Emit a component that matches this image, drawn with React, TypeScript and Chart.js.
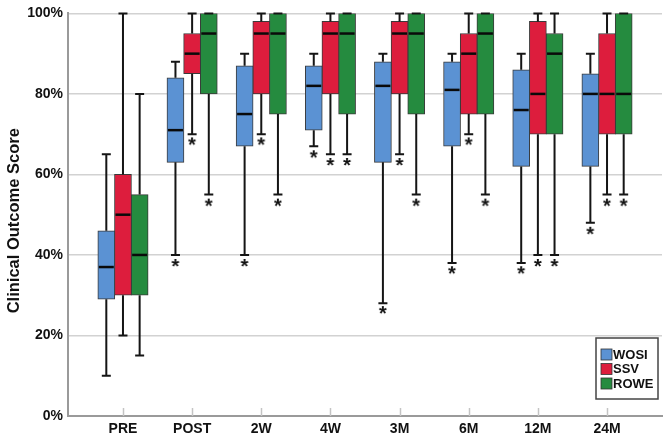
import React, { useEffect, useRef } from 'react';
import { Chart, registerables } from 'chart.js';
Chart.register(...registerables);

// ---------------- data ----------------
const categories = ['PRE', 'POST', '2W', '4W', '3M', '6M', '12M', '24M'];
const seriesNames = ['WOSI', 'SSV', 'ROWE'];
const seriesColors = ['#5b92d3', '#dd1d3d', '#258b3f'];
const yTitle = 'Clinical Outcome Score';

const wosiWhiskerHigh = [65, 88, 90, 90, 90, 90, 90, 90];
const wosiQ3 = [46, 84, 87, 87, 88, 88, 86, 85];
const wosiMedian = [37, 71, 75, 82, 82, 81, 76, 80];
const wosiQ1 = [29, 63, 67, 71, 63, 67, 62, 62];
const wosiWhiskerLow = [10, 40, 40, 67, 28, 38, 38, 48];
const wosiOutlier = [null, 38.5, 38.5, 65.5, 26.8, 36.7, 36.7, 46.5];

const ssvWhiskerHigh = [100, 100, 100, 100, 100, 100, 100, 100];
const ssvQ3 = [60, 95, 98, 98, 98, 95, 98, 95];
const ssvMedian = [50, 90, 95, 95, 95, 90, 80, 80];
const ssvQ1 = [30, 85, 80, 80, 80, 75, 70, 70];
const ssvWhiskerLow = [20, 70, 70, 65, 65, 70, 40, 55];
const ssvOutlier = [null, 68.7, 68.7, 63.6, 63.6, 68.7, 38.5, 53.5];

const roweWhiskerHigh = [80, 100, 100, 100, 100, 100, 100, 100];
const roweQ3 = [55, 100, 100, 100, 100, 100, 95, 100];
const roweMedian = [40, 95, 95, 95, 95, 95, 90, 80];
const roweQ1 = [30, 80, 75, 75, 75, 75, 70, 70];
const roweWhiskerLow = [15, 55, 55, 65, 55, 55, 40, 55];
const roweOutlier = [null, 53.5, 53.5, 63.6, 53.5, 53.5, 38.5, 53.5];

const yTicks = [0, 20, 40, 60, 80, 100];

const series = [
  { hi: wosiWhiskerHigh, q3: wosiQ3, med: wosiMedian, q1: wosiQ1, lo: wosiWhiskerLow, out: wosiOutlier },
  { hi: ssvWhiskerHigh, q3: ssvQ3, med: ssvMedian, q1: ssvQ1, lo: ssvWhiskerLow, out: ssvOutlier },
  { hi: roweWhiskerHigh, q3: roweQ3, med: roweMedian, q1: roweQ1, lo: roweWhiskerLow, out: roweOutlier },
];

// ---------------- layout constants ----------------
const FONT = '"Liberation Sans", Arial, Helvetica, sans-serif';
const GROUP_STEP = 0.241; // offset between boxes within a category (in category units)
const X_PAD = 0.795; // padding of x range beyond first/last category

function makeStarCanvas() {
  const c = document.createElement('canvas');
  c.width = 18;
  c.height = 18;
  const g = c.getContext('2d')!;
  g.fillStyle = '#111';
  g.font = `bold 20px ${FONT}`;
  g.textAlign = 'center';
  g.textBaseline = 'alphabetic';
  g.fillText('*', 9, 9 + 0.59 * 20);
  return c;
}

const boxPlugin = {
  id: 'boxExtras',
  beforeDatasetsDraw(chart: any) {
    const { ctx, scales, chartArea } = chart;
    const xs = scales.x;
    ctx.save();
    ctx.strokeStyle = '#c4c4c4';
    ctx.lineWidth = 1.5;
    xs.ticks.forEach((t: any) => {
      const px = Math.round(xs.getPixelForValue(t.value)) + 0.5;
      ctx.beginPath();
      ctx.moveTo(px, chartArea.bottom);
      ctx.lineTo(px, chartArea.bottom - 8);
      ctx.stroke();
    });
    ctx.restore();
  },
  afterDatasetsDraw(chart: any) {
    const { ctx, scales } = chart;
    const ys = scales.y;
    ctx.save();
    series.forEach((s, j) => {
      const meta = chart.getDatasetMeta(j);
      categories.forEach((_, i) => {
        const el = meta.data[i];
        if (!el) return;
        const xc = el.x;
        const half = el.width / 2;
        const yHi = ys.getPixelForValue(s.hi[i]);
        const yQ3 = ys.getPixelForValue(s.q3[i]);
        const yQ1 = ys.getPixelForValue(s.q1[i]);
        const yLo = ys.getPixelForValue(s.lo[i]);
        const yMed = ys.getPixelForValue(s.med[i]);
        ctx.strokeStyle = '#151515';
        ctx.lineWidth = 2;
        ctx.beginPath();
        ctx.moveTo(xc, yQ3);
        ctx.lineTo(xc, yHi);
        ctx.moveTo(xc - 4.5, yHi);
        ctx.lineTo(xc + 4.5, yHi);
        ctx.moveTo(xc, yQ1);
        ctx.lineTo(xc, yLo);
        ctx.moveTo(xc - 4.5, yLo);
        ctx.lineTo(xc + 4.5, yLo);
        ctx.stroke();
        ctx.lineWidth = 2.5;
        ctx.strokeStyle = '#0a0a0a';
        ctx.beginPath();
        ctx.moveTo(xc - half + 1, yMed);
        ctx.lineTo(xc + half - 1, yMed);
        ctx.stroke();
      });
    });
    ctx.restore();
  },
  afterDraw(chart: any) {
    const { ctx, chartArea } = chart;
    // y-axis title
    ctx.save();
    ctx.translate(14, (chartArea.top + chartArea.bottom) / 2 + 6);
    ctx.rotate(-Math.PI / 2);
    ctx.font = `bold 16.5px ${FONT}`;
    ctx.fillStyle = '#111';
    ctx.textAlign = 'center';
    ctx.textBaseline = 'middle';
    ctx.fillText(yTitle, 0, 0);
    ctx.restore();

    // legend
    const left = chartArea.right - 66;
    const top = chartArea.bottom - 78;
    const w = 62;
    const h = 61;
    ctx.save();
    ctx.fillStyle = '#ffffff';
    ctx.fillRect(left, top, w, h);
    ctx.strokeStyle = '#444';
    ctx.lineWidth = 1.5;
    ctx.strokeRect(left, top, w, h);
    ctx.font = `bold 13px ${FONT}`;
    ctx.textBaseline = 'middle';
    ctx.textAlign = 'left';
    seriesNames.forEach((name, j) => {
      const cy = top + 16 + j * 14.5;
      ctx.fillStyle = seriesColors[j];
      ctx.fillRect(left + 5, cy - 5, 11, 11);
      ctx.strokeStyle = '#333';
      ctx.lineWidth = 0.8;
      ctx.strokeRect(left + 5, cy - 5, 11, 11);
      ctx.fillStyle = '#111';
      ctx.fillText(name, left + 17, cy + 1);
    });
    ctx.restore();
  },
};

export default function App() {
  const ref = useRef<HTMLCanvasElement | null>(null);
  useEffect(() => {
    document.body.style.margin = '0';
    const star = makeStarCanvas();
    const barSets = series.map((s, j) => ({
      type: 'bar' as const,
      label: seriesNames[j],
      data: categories.map((_, i) => ({ x: i + (j - 1) * GROUP_STEP, y: [s.q1[i], s.q3[i]] })),
      backgroundColor: seriesColors[j],
      borderColor: '#3a3a3a',
      borderWidth: 1,
      borderSkipped: false,
      barThickness: 17,
      grouped: false,
    }));
    const outlierSets = series.map((s, j) => ({
      type: 'scatter' as const,
      label: seriesNames[j] + ' outliers',
      data: categories
        .map((_, i) => (s.out[i] == null ? null : { x: i + (j - 1) * GROUP_STEP, y: s.out[i] }))
        .filter((p) => p !== null),
      pointStyle: star,
      pointRadius: 5,
    }));
    const chart = new Chart(ref.current!, {
      type: 'bar',
      data: { datasets: [...barSets, ...outlierSets] as any },
      options: {
        animation: false,
        responsive: false,
        layout: { padding: { left: 0, right: 6, top: 13, bottom: 0 } },
        plugins: { legend: { display: false }, tooltip: { enabled: false } },
        scales: {
          x: {
            type: 'linear',
            offset: false,
            min: -X_PAD,
            max: categories.length - 1 + X_PAD,
            afterBuildTicks: (scale: any) => {
              scale.ticks = categories.map((_, i) => ({ value: i }));
            },
            afterFit: (scale: any) => {
              scale.height = 23;
            },
            ticks: {
              autoSkip: false,
              maxRotation: 0,
              padding: 5,
              color: '#111',
              font: { family: FONT, size: 14, weight: 'bold' },
              callback: (v: any) => categories[v] ?? '',
            },
            grid: { display: false, drawTicks: false },
            border: { display: true, color: '#9a9a9a', width: 2 },
          },
          y: {
            min: 0,
            max: 100,
            afterBuildTicks: (scale: any) => {
              scale.ticks = yTicks.map((v) => ({ value: v }));
            },
            afterFit: (scale: any) => {
              scale.width = 68;
            },
            ticks: {
              padding: 5,
              color: '#111',
              font: { family: FONT, size: 14, weight: 'bold' },
              callback: (v: any) => v + '%',
            },
            grid: { color: '#d2d2d2', lineWidth: 1.5, drawTicks: false },
            border: { display: true, color: '#9a9a9a', width: 2 },
          },
        },
      } as any,
      plugins: [boxPlugin],
    });
    return () => chart.destroy();
  }, []);
  return (
    <div style={{ position: 'absolute', left: 0, top: 0, width: 668, height: 439 }}>
      <canvas ref={ref} width={668} height={439} />
    </div>
  );
}
